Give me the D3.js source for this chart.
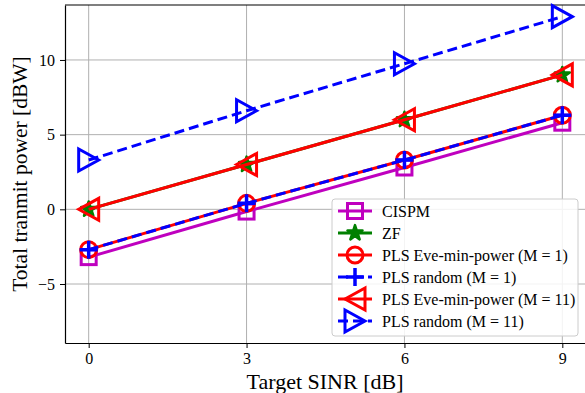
<!DOCTYPE html>
<html>
<head>
<meta charset="utf-8">
<script src="https://cdn.jsdelivr.net/npm/d3@7"></script>
<style>
  body { margin: 0; background: #fff; }
  svg { display: block; font-family: 'Liberation Serif', 'Times New Roman', serif; }
  .grid line { stroke: #b0b0b0; stroke-width: 1; }
  .tick text { font-size: 16px; fill: #000; font-family: 'Liberation Serif', serif; }
</style>
</head>
<body>
<svg id="the-svg" width="585" height="393"></svg>
<script>
// Target SINR [dB]
const SINR = [0, 3, 6, 9];

// Total transmit power [dBW]
const CISPM = [-3.2, -0.15, 2.8, 5.8];
const ZF = [0.0, 3.0, 6.0, 9.0];
const PLS_EVE_M1 = [-2.7, 0.4, 3.3, 6.3];
const PLS_RANDOM_M1 = [-2.7, 0.4, 3.3, 6.3];
const PLS_EVE_M11 = [0.0, 3.0, 6.0, 9.0];
const PLS_RANDOM_M11 = [3.3, 6.6, 9.75, 12.9];

const X_TICKS = [0, 3, 6, 9];
const Y_TICKS = [-5, 0, 5, 10];

const SERIES = [
  { name: 'CISPM', values: CISPM, color: '#bf00bf', dash: null, marker: 'square' },
  { name: 'ZF', values: ZF, color: '#008000', dash: null, marker: 'star' },
  { name: 'PLS Eve-min-power (M = 1)', values: PLS_EVE_M1, color: '#ff0000', dash: null, marker: 'circle' },
  { name: 'PLS random (M = 1)', values: PLS_RANDOM_M1, color: '#0000ff', dash: '10,5', marker: 'plus' },
  { name: 'PLS Eve-min-power (M = 11)', values: PLS_EVE_M11, color: '#ff0000', dash: null, marker: 'triLeft' },
  { name: 'PLS random (M = 11)', values: PLS_RANDOM_M11, color: '#0000ff', dash: '10,5', marker: 'triRight' },
];

const svg = d3.select('svg');

const plotLeft = 65, plotTop = 5, plotBottom = 343, plotRight = 586;

const x = d3.scaleLinear().domain([-0.45, 9.45]).range([plotLeft, plotRight]);
const y = d3.scaleLinear().domain([-8.95, 13.68]).range([plotBottom, plotTop]);

////////////
// Grid   //
////////////

const grid = svg.append('g').attr('class', 'grid');
grid.selectAll('.gx').data(X_TICKS).enter().append('line')
  .attr('x1', d => x(d)).attr('x2', d => x(d))
  .attr('y1', plotTop).attr('y2', plotBottom);
grid.selectAll('.gy').data(Y_TICKS).enter().append('line')
  .attr('y1', d => y(d)).attr('y2', d => y(d))
  .attr('x1', plotLeft).attr('x2', plotRight);

////////////
// Axes   //
////////////

const xAxis = svg.append('g')
  .attr('transform', `translate(0,${plotBottom})`)
  .call(d3.axisBottom(x).tickValues(X_TICKS).tickSizeInner(5).tickSizeOuter(0).tickPadding(5));
const yAxis = svg.append('g')
  .attr('transform', `translate(${plotLeft},0)`)
  .call(d3.axisLeft(y).tickValues(Y_TICKS).tickSizeInner(5).tickSizeOuter(0).tickPadding(5)
    .tickFormat(d => d < 0 ? '\u2212' + Math.abs(d) : d));

[xAxis, yAxis].forEach(a => {
  a.select('.domain').attr('stroke', '#000').attr('stroke-width', 1.2);
  a.selectAll('.tick line').attr('stroke', '#000').attr('stroke-width', 1);
});

// top spine
svg.append('line')
  .attr('x1', plotLeft).attr('x2', plotRight)
  .attr('y1', plotTop).attr('y2', plotTop)
  .attr('stroke', '#000').attr('stroke-width', 1.2);

svg.append('text')
  .attr('x', 325).attr('y', 389)
  .attr('text-anchor', 'middle')
  .attr('font-size', 22)
  .text('Target SINR [dB]');

svg.append('text')
  .attr('transform', 'translate(27,174) rotate(-90)')
  .attr('text-anchor', 'middle')
  .attr('font-size', 21.5)
  .text('Total tranmit power [dBW]');

//////////////
// Markers  //
//////////////

function drawMarker(g, kind, color) {
  const sw = 3;
  if (kind === 'square') {
    g.append('rect').attr('x', -7.5).attr('y', -7.5).attr('width', 15).attr('height', 15)
      .attr('fill', 'none').attr('stroke', color).attr('stroke-width', sw);
  } else if (kind === 'circle') {
    g.append('circle').attr('r', 8)
      .attr('fill', 'none').attr('stroke', color).attr('stroke-width', sw);
  } else if (kind === 'plus') {
    g.append('path').attr('d', 'M-9,0H9M0,-9V9')
      .attr('fill', 'none').attr('stroke', color).attr('stroke-width', 3.5);
  } else if (kind === 'star') {
    g.append('path').attr('d', d3.symbol(d3.symbolStar, 70)())
      .attr('fill', color).attr('stroke', color).attr('stroke-width', 2.5)
      .attr('stroke-linejoin', 'round');
  } else if (kind === 'triLeft') {
    g.append('path').attr('d', 'M-10,0L10,-11L10,11Z')
      .attr('fill', 'none').attr('stroke', color).attr('stroke-width', sw);
  } else if (kind === 'triRight') {
    g.append('path').attr('d', 'M10,0L-10,-11L-10,11Z')
      .attr('fill', 'none').attr('stroke', color).attr('stroke-width', sw);
  }
}

////////////
// Lines  //
////////////

const plot = svg.append('g');
const line = d3.line().x((d, i) => x(SINR[i])).y(d => y(d));

SERIES.forEach(s => {
  const g = plot.append('g');
  g.append('path')
    .attr('d', line(s.values))
    .attr('fill', 'none')
    .attr('stroke', s.color)
    .attr('stroke-width', 3)
    .attr('stroke-dasharray', s.dash);
  s.values.forEach((v, i) => {
    drawMarker(g.append('g').attr('transform', `translate(${x(SINR[i])},${y(v)})`), s.marker, s.color);
  });
});

////////////
// Legend //
////////////

const legend = svg.append('g').attr('transform', 'translate(332,199)');
legend.append('rect')
  .attr('width', 246).attr('height', 137)
  .attr('rx', 3)
  .attr('fill', 'rgba(255,255,255,0.85)')
  .attr('stroke', '#cccccc').attr('stroke-width', 1);

SERIES.forEach((s, i) => {
  const row = legend.append('g').attr('transform', `translate(0,${12 + i * 22})`);
  row.append('line')
    .attr('x1', 6).attr('x2', 40)
    .attr('stroke', s.color).attr('stroke-width', 3)
    .attr('stroke-dasharray', s.dash);
  drawMarker(row.append('g').attr('transform', 'translate(23,0)'), s.marker, s.color);
  row.append('text')
    .attr('x', 50).attr('y', 5.5)
    .attr('font-size', 16)
    .text(s.name);
});
</script>
</body>
</html>
